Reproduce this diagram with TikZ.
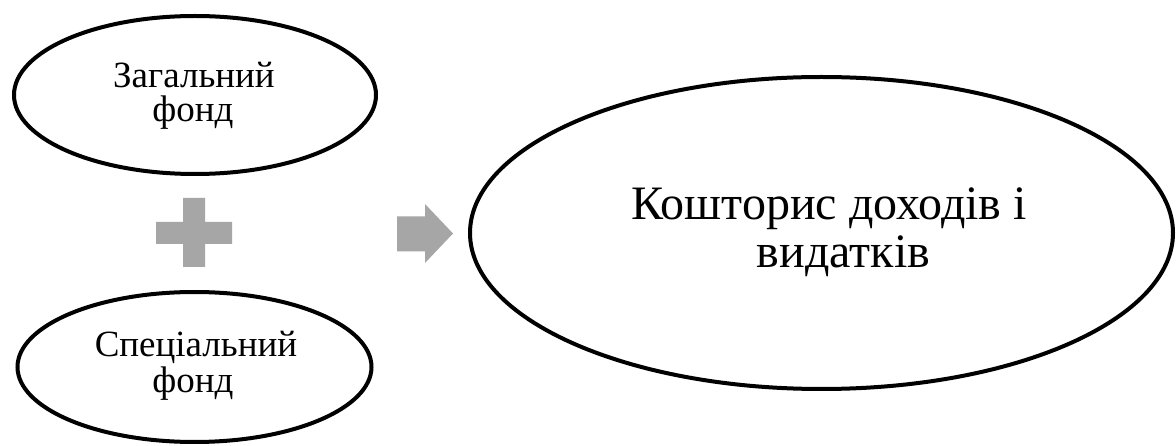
\documentclass[tikz,border=0pt]{standalone}
\usepackage{fontspec}
\setmainfont{Liberation Serif}
\usetikzlibrary{shapes.geometric}
\definecolor{shapegray}{HTML}{A6A6A6}
\begin{document}
\begin{tikzpicture}[x=1pt,y=-1pt,
  oval/.style={draw=black, line width=4pt, ellipse, inner sep=0pt},
  smalltxt/.style={inner sep=0pt, anchor=base, font=\fontsize{37}{36}\selectfont},
  bigtxt/.style={inner sep=0pt, anchor=base, font=\fontsize{48}{48}\selectfont},
  graysym/.style={fill=shapegray, draw=none}]
\useasboundingbox[fill=white] (0,0) rectangle (1176,446);
% ovals
\node[oval, minimum width=362pt, minimum height=158pt] (gen) at (195,95) {};
\node[oval, minimum width=354pt, minimum height=150pt] (spec) at (194.5,367) {};
\node[oval, minimum width=703pt, minimum height=312pt] (est) at (821.5,233) {};
% texts
\node[smalltxt] (gen1) at (194,88) {Загальний};
\node[smalltxt] (gen2) at (193,122) {фонд};
\node[smalltxt] (spec1) at (196,357) {Спеціальний};
\node[smalltxt] (spec2) at (193,392) {фонд};
\node[bigtxt] (est1) at (829,220) {Кошторис доходів і};
\node[bigtxt] (est2) at (843.5,268) {видатків};
% plus sign
\fill[graysym] (183,198) -- (205,198) -- (205,222) -- (232,222) -- (232,244)
  -- (205,244) -- (205,267) -- (183,267) -- (183,244) -- (156,244)
  -- (156,222) -- (183,222) -- cycle;
% block arrow
\fill[graysym] (397,216.5) -- (425,216.5) -- (425,204) -- (453,233.5)
  -- (425,263) -- (425,251.5) -- (397,251.5) -- cycle;
\end{tikzpicture}
\end{document}
